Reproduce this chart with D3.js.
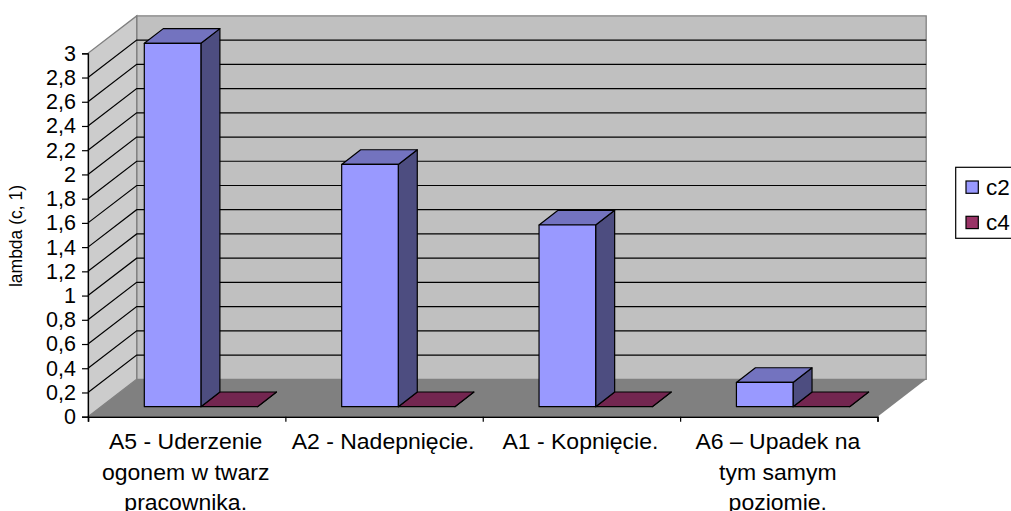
<!DOCTYPE html>
<html>

<head>
    <meta charset="utf-8">
    <title>lambda (c, 1)</title>
    <script src="https://cdn.jsdelivr.net/npm/d3@7/dist/d3.min.js"></script>
    <style>
        html, body { margin: 0; padding: 0; background: white; overflow: hidden; }
        svg { display: block; }
        text { font-family: "Liberation Sans", Arial, sans-serif; fill: black; }
    </style>
</head>

<body>
    <svg width="1011" height="511" id="mainsvg"></svg>
    <script>
        const categories = ['A5 - Uderzenie\nogonem w twarz\npracownika.', 'A2 - Nadepnięcie.', 'A1 - Kopnięcie.', 'A6 – Upadek na\ntym samym\npoziomie.'];
        const seriesNames = ['c2', 'c4'];
        const c2Values = [3, 2, 1.5, 0.2];
        const c4Values = [0, 0, 0, 0];
        const yTicks = [0, 0.2, 0.4, 0.6, 0.8, 1, 1.2, 1.4, 1.6, 1.8, 2, 2.2, 2.4, 2.6, 2.8, 3];

        const colors = { c2: ['#9999ff', '#7373bf', '#4d4d80'], c4: ['#993366', '#732650', '#4d1a33'] };

        const svg = d3.select('svg');

        // front plane of the 3d box
        const plotLeft = 88, plotRight = 877.5, plotBottom = 416.7, plotTop = 53.3;
        const depthX = 48.7, depthY = -37.4;   // box depth
        const barDepthX = 19, barDepthY = -14.7;
        const barLift = 10;                    // bars stand a bit behind the front edge

        const x0 = d3.scaleBand().domain(categories).range([plotLeft, plotRight]);
        const x1 = d3.scaleBand().domain(seriesNames).range([56.3, 169.5]);
        const y = d3.scaleLinear().domain([0, 3]).range([plotBottom, plotTop]);

        const poly = pts => pts.map(p => p.join(',')).join(' ');

        // walls and floor
        svg.append('polygon')
            .attr('points', poly([[plotLeft + depthX, plotBottom + depthY], [plotRight + depthX, plotBottom + depthY], [plotRight + depthX, plotTop + depthY], [plotLeft + depthX, plotTop + depthY]]))
            .attr('fill', '#c0c0c0').attr('stroke', '#808080').attr('stroke-width', 1.3);
        svg.append('polygon')
            .attr('points', poly([[plotLeft, plotBottom], [plotLeft + depthX, plotBottom + depthY], [plotLeft + depthX, plotTop + depthY], [plotLeft, plotTop]]))
            .attr('fill', '#cccccc').attr('stroke', '#808080').attr('stroke-width', 1.3);
        svg.append('polygon')
            .attr('points', poly([[plotLeft, plotBottom], [plotRight, plotBottom], [plotRight + depthX, plotBottom + depthY], [plotLeft + depthX, plotBottom + depthY]]))
            .attr('fill', '#808080');

        // gridlines run along the side wall and the back wall
        svg.append('g').selectAll('polyline')
            .data(yTicks.filter(d => d > 0 && d < 3)).join('polyline')
            .attr('points', d => poly([[plotLeft, y(d)], [plotLeft + depthX, y(d) + depthY], [plotRight + depthX, y(d) + depthY]]))
            .attr('fill', 'none').attr('stroke', 'black').attr('stroke-width', 1.2);

        // bars
        const rows = categories.flatMap((c, i) => [
            { cat: c, name: 'c2', value: c2Values[i] },
            { cat: c, name: 'c4', value: c4Values[i] }
        ]);
        // back to front so that the c2 side face is not covered
        const bars = svg.append('g').selectAll('g').data(rows.slice().sort((a, b) => d3.descending(a.name, b.name))).join('g')
            .attr('stroke', 'black').attr('stroke-width', 1.2).attr('stroke-linejoin', 'round');
        const bx = d => x0(d.cat) + x1(d.name);
        const by = d => y(d.value) - barLift;
        const by0 = y(0) - barLift;
        const bw = x1.bandwidth();

        bars.append('polygon')
            .attr('fill', d => colors[d.name][2])
            .attr('points', d => poly([[bx(d) + bw, by0], [bx(d) + bw + barDepthX, by0 + barDepthY], [bx(d) + bw + barDepthX, by(d) + barDepthY], [bx(d) + bw, by(d)]]));
        bars.append('polygon')
            .attr('fill', d => colors[d.name][1])
            .attr('points', d => poly([[bx(d), by(d)], [bx(d) + bw, by(d)], [bx(d) + bw + barDepthX, by(d) + barDepthY], [bx(d) + barDepthX, by(d) + barDepthY]]));
        bars.filter(d => d.value > 0).append('rect')
            .attr('fill', d => colors[d.name][0])
            .attr('x', bx).attr('y', by).attr('width', bw).attr('height', d => by0 - by(d));

        // axes
        const yAxis = svg.append('g').attr('transform', `translate(${plotLeft},0)`)
            .call(d3.axisLeft(y).tickValues(yTicks).tickSize(6).tickPadding(6).tickFormat(d => String(d).replace('.', ',')));
        yAxis.selectAll('line').attr('stroke', 'black').attr('stroke-width', 1.2);
        yAxis.select('.domain').attr('stroke', 'black').attr('stroke-width', 1.2);
        yAxis.selectAll('text').attr('font-size', 21.5).attr('font-family', '"Liberation Sans", Arial, sans-serif');

        const tickPositions = categories.map(c => x0(c)).concat(plotRight);
        const xAxis = svg.append('g').attr('transform', `translate(0,${plotBottom})`)
            .call(d3.axisBottom(d3.scaleLinear().domain([plotLeft, plotRight]).range([plotLeft, plotRight]))
                .tickValues(tickPositions).tickSize(5).tickFormat(''));
        xAxis.selectAll('line').attr('stroke', 'black').attr('stroke-width', 1.2);
        xAxis.select('.domain').attr('stroke', 'black').attr('stroke-width', 1.6);

        // category labels, the original text runs a bit wider than Liberation Sans
        svg.append('g').selectAll('g').data(categories).join('g')
            .attr('transform', c => `translate(${x0(c) + x0.bandwidth() / 2 - 1},0) scale(1.07,1)`)
            .append('text')
            .attr('text-anchor', 'middle').attr('font-size', 21.5)
            .each(function (c) {
                d3.select(this).selectAll('tspan').data(c.split('\n')).join('tspan')
                    .attr('x', 0)
                    .attr('y', (d, i) => 449 + i * 30.6)
                    .text(d => d);
            });

        svg.append('text')
            .attr('transform', 'translate(22,236) rotate(-90)')
            .attr('text-anchor', 'middle').attr('font-size', 17.5)
            .text('lambda (c, 1)');

        // legend, cut off by the right edge of the picture
        svg.append('rect').attr('x', 955.7).attr('y', 167.3).attr('width', 70).attr('height', 71)
            .attr('fill', 'white').attr('stroke', 'black').attr('stroke-width', 1.2);
        const legend = svg.append('g').selectAll('g').data(seriesNames).join('g')
            .attr('transform', (d, i) => `translate(966,${181 + i * 35.3})`);
        legend.append('rect').attr('width', 12.3).attr('height', 12.3)
            .attr('fill', d => colors[d][0]).attr('stroke', 'black').attr('stroke-width', 1.2);
        legend.append('text').attr('x', 20).attr('y', 14).attr('font-size', 22.5).text(d => d);
    </script>
</body>

</html>
